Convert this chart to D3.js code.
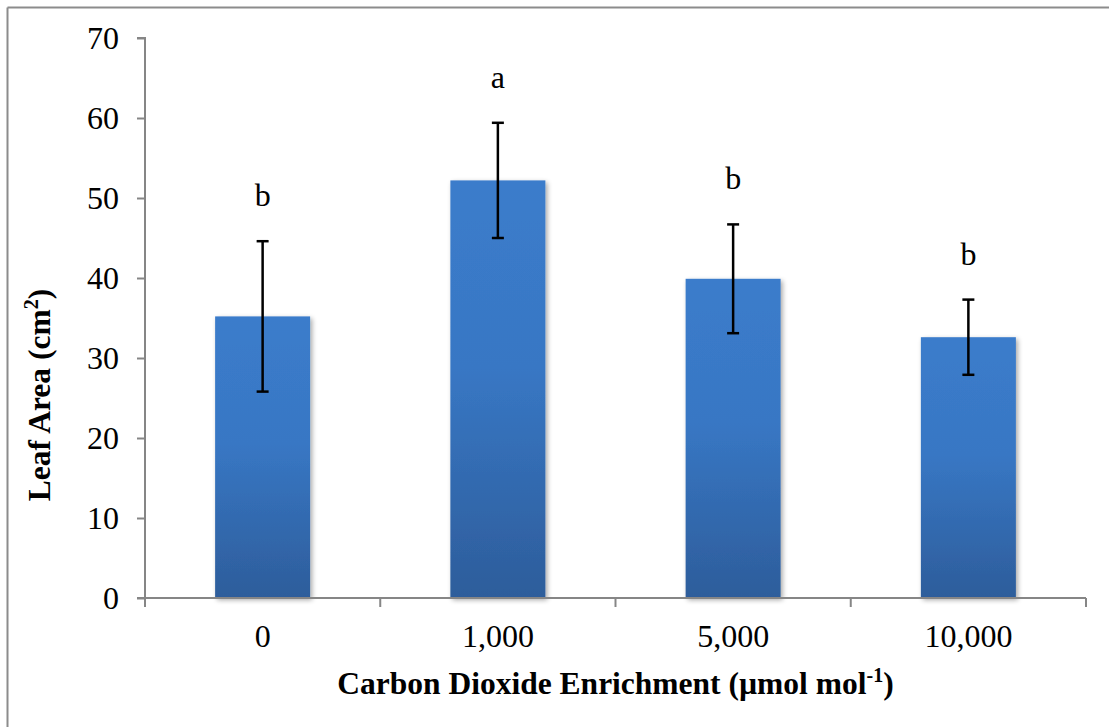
<!DOCTYPE html>
<html>
<head>
<meta charset="utf-8">
<script src="https://cdn.jsdelivr.net/npm/d3@7"></script>
<style>
  body { margin: 0; background: #fff; }
  svg text { font-family: 'Liberation Serif', 'Times New Roman', Times, 'DejaVu Serif', serif !important; }
</style>
</head>
<body>
<svg id="chart" width="1109" height="727"></svg>
<script>
const categories = ["0", "1,000", "5,000", "10,000"];
const means = [35.2, 52.2, 39.9, 32.6];
const errors = [9.4, 7.2, 6.8, 4.7];
const letters = ["b", "a", "b", "b"];
const yTicks = [0, 10, 20, 30, 40, 50, 60, 70];

const svg = d3.select("#chart");
const margin = { left: 145, right: 23, top: 38, bottom: 129 };
const W = 1109, H = 727;
const x0 = margin.left, x1 = W - margin.right;
const y0 = H - margin.bottom, y1 = margin.top;

// outer frame (top & left only visible)
svg.append("line").attr("x1", 7.5).attr("x2", W).attr("y1", 7.5).attr("y2", 7.5)
  .attr("stroke", "#8c8c8c").attr("stroke-width", 2);
svg.append("line").attr("x1", 7.5).attr("x2", 7.5).attr("y1", 7.5).attr("y2", H)
  .attr("stroke", "#8c8c8c").attr("stroke-width", 2);

const x = d3.scaleBand().domain(categories).range([x0, x1]).paddingInner(0).paddingOuter(0);
const y = d3.scaleLinear().domain([0, 70]).range([y0, y1]);

const defs = svg.append("defs");
const grad = defs.append("linearGradient").attr("id", "barGrad")
  .attr("x1", 0).attr("x2", 0).attr("y1", 0).attr("y2", 1);
grad.append("stop").attr("offset", "0%").attr("stop-color", "#3b7ccb");
grad.append("stop").attr("offset", "45%").attr("stop-color", "#3877c4");
grad.append("stop").attr("offset", "100%").attr("stop-color", "#2d5d9b");

const shadow = defs.append("filter").attr("id", "shadow")
  .attr("x", "-10%").attr("y", "-10%").attr("width", "130%").attr("height", "120%");
shadow.append("feGaussianBlur").attr("in", "SourceAlpha").attr("stdDeviation", 2.5).attr("result", "blur");
shadow.append("feOffset").attr("in", "blur").attr("dx", 2).attr("dy", 2).attr("result", "off");
shadow.append("feComponentTransfer").attr("in", "off").attr("result", "sh")
  .append("feFuncA").attr("type", "linear").attr("slope", 0.35);
const merge = shadow.append("feMerge");
merge.append("feMergeNode").attr("in", "sh");
merge.append("feMergeNode").attr("in", "SourceGraphic");

const barW = 95;
const data = categories.map((c, i) => ({ c, m: means[i], e: errors[i], l: letters[i] }));

svg.append("g").selectAll("rect").data(data).join("rect")
  .attr("x", d => x(d.c) + x.bandwidth() / 2 - barW / 2)
  .attr("width", barW)
  .attr("y", d => y(d.m))
  .attr("height", d => y(0) - y(d.m))
  .attr("fill", "url(#barGrad)")
  .attr("filter", "url(#shadow)");

// axes
const gridColor = "#868686";
const yAxis = d3.axisLeft(y).tickValues(yTicks).tickSize(8).tickPadding(18).tickFormat(d3.format("d"));
const gy = svg.append("g").attr("transform", `translate(${x0},0)`).call(yAxis);
gy.attr("font-family", null);
gy.select(".domain").attr("stroke", gridColor).attr("stroke-width", 2).attr("d", `M-8,${y1}H0V${y0}`);
gy.selectAll(".tick line").attr("stroke", gridColor).attr("stroke-width", 2);
gy.selectAll(".tick text").attr("font-size", 32).attr("fill", "#000").attr("dy", "0.34em");

const gx = svg.append("g").attr("transform", `translate(0,${y0})`);
gx.append("line").attr("x1", x0 - 8).attr("x2", x1).attr("y1", 0).attr("y2", 0)
  .attr("stroke", gridColor).attr("stroke-width", 2);
const tickPos = categories.map(c => x(c)).concat([x1]);
gx.selectAll("line.t").data(tickPos).join("line").attr("class", "t")
  .attr("x1", d => d).attr("x2", d => d).attr("y1", 0).attr("y2", 9)
  .attr("stroke", gridColor).attr("stroke-width", 2);
gx.selectAll("text").data(categories).join("text")
  .attr("x", d => x(d) + x.bandwidth() / 2)
  .attr("y", 49)
  .attr("text-anchor", "middle")
  .attr("font-size", 32)
  .text(d => d);

// error bars
const eb = svg.append("g").attr("stroke", "#000").attr("stroke-width", 2.5);
data.forEach(d => {
  const cx = x(d.c) + x.bandwidth() / 2;
  eb.append("line").attr("x1", cx).attr("x2", cx).attr("y1", y(d.m + d.e)).attr("y2", y(d.m - d.e));
  eb.append("line").attr("x1", cx - 6).attr("x2", cx + 6).attr("y1", y(d.m + d.e)).attr("y2", y(d.m + d.e));
  eb.append("line").attr("x1", cx - 6).attr("x2", cx + 6).attr("y1", y(d.m - d.e)).attr("y2", y(d.m - d.e));
});

// significance letters
svg.append("g").selectAll("text").data(data).join("text")
  .attr("x", d => x(d.c) + x.bandwidth() / 2)
  .attr("y", d => y(d.m + d.e) - 35)
  .attr("text-anchor", "middle")
  .attr("font-size", 32)
  .text(d => d.l);

// axis titles
const xt = svg.append("text").attr("x", (x0 + x1) / 2).attr("y", 694)
  .attr("text-anchor", "middle").attr("font-size", 31.5).attr("font-weight", "bold");
xt.append("tspan").text("Carbon Dioxide Enrichment (µmol mol");
xt.append("tspan").attr("dy", -12).attr("font-size", 20).text("-1");
xt.append("tspan").attr("dy", 12).text(")");

const yt = svg.append("text").attr("transform", `translate(50,395) rotate(-90)`)
  .attr("text-anchor", "middle").attr("font-size", 31.5).attr("font-weight", "bold");
yt.append("tspan").text("Leaf Area (cm");
yt.append("tspan").attr("dy", -12).attr("font-size", 20).text("2");
yt.append("tspan").attr("dy", 12).text(")");
</script>
</body>
</html>
